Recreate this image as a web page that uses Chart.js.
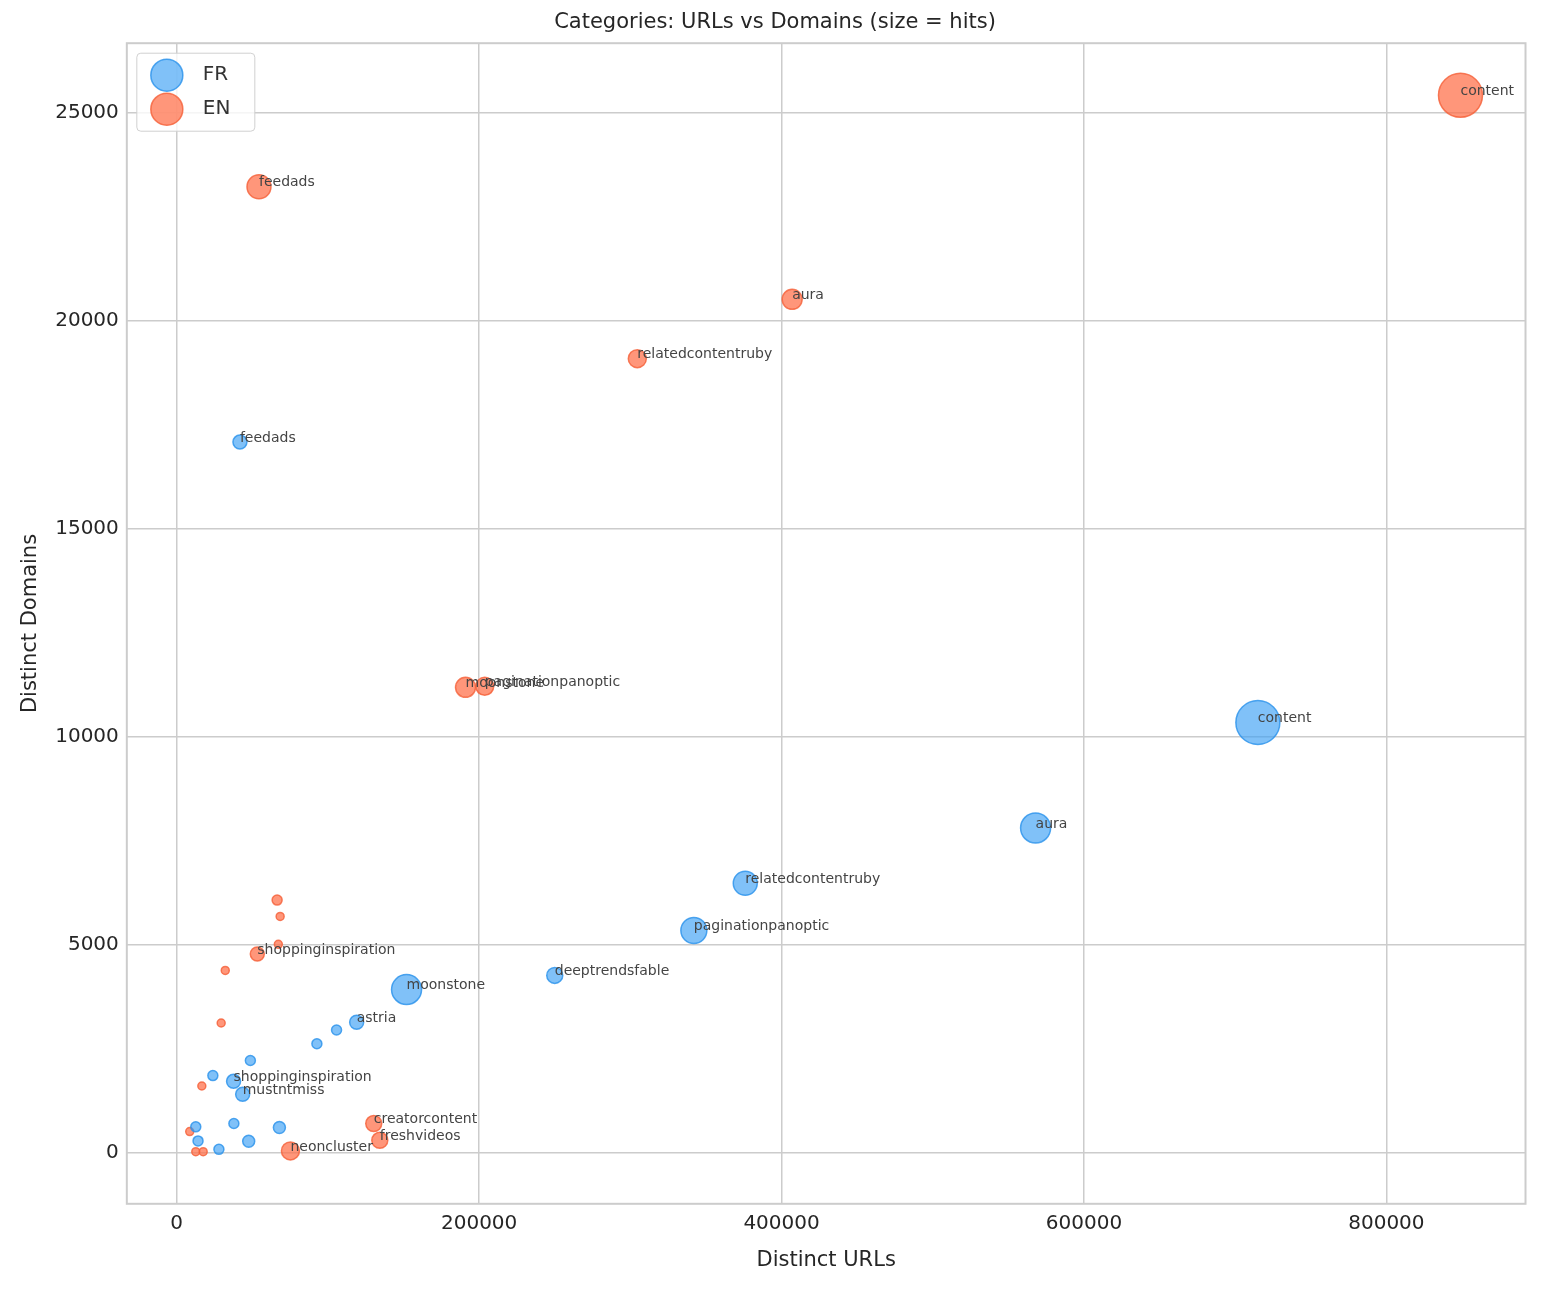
<!DOCTYPE html>
<html>
<head>
<meta charset="utf-8">
<script src="https://cdn.jsdelivr.net/npm/chart.js@4/dist/chart.umd.min.js"></script>
<style>
  html, body { margin: 0; padding: 0; background: #fff; }
  #wrap { width: 1549px; height: 1291px; }
</style>
</head>
<body>
<div id="wrap"><canvas id="c" width="1549" height="1291"></canvas></div>
<script>
// FR series
const frLabels = ['content', 'aura', 'relatedcontentruby', 'paginationpanoptic', 'deeptrendsfable', 'moonstone', 'astria', '', '', '', '', 'shoppinginspiration', 'mustntmiss', '', '', '', '', '', '', 'feedads'];
const frUrls = [715000, 568000, 376000, 342000, 250000, 152000, 119000, 105700, 92700, 48700, 23900, 37600, 43600, 12600, 37800, 67900, 14100, 47600, 27900, 41800];
const frDomains = [10345, 7807, 6478, 5342, 4262, 3923, 3135, 2949, 2618, 2216, 1853, 1716, 1402, 621, 701, 604, 283, 273, 80, 17088];
const frHits = [484, 225, 144, 169, 64, 225, 49, 25, 25, 25, 25, 49, 49, 25, 25, 36, 25, 36, 25, 49];

// EN series
const enLabels = ['content', 'feedads', 'aura', 'relatedcontentruby', 'moonstone', 'paginationpanoptic', '', '', '', 'shoppinginspiration', '', '', '', 'creatorcontent', 'freshvideos', 'neoncluster', '', '', ''];
const enUrls = [849000, 54400, 407000, 304600, 191000, 203700, 66400, 68400, 67200, 53300, 32100, 29400, 16600, 130300, 134300, 75200, 8600, 12600, 17500];
const enDomains = [25427, 23227, 20520, 19094, 11191, 11215, 6074, 5680, 5011, 4778, 4382, 3118, 1603, 701, 298, 41, 508, 24, 24];
const enHits = [484, 144, 100, 81, 100, 81, 25, 16, 16, 49, 16, 16, 16, 64, 64, 81, 16, 16, 16];

const xTicks = [0, 200000, 400000, 600000, 800000];
const yTicks = [0, 5000, 10000, 15000, 20000, 25000];

const FR = { fill: 'rgba(60,160,245,0.65)', edge: 'rgba(40,145,235,0.8)' };
const EN = { fill: 'rgba(255,110,70,0.72)', edge: 'rgba(245,95,55,0.8)' };

const toPoints = (xs, ys) => xs.map((x, i) => ({ x, y: ys[i] }));
const radii = hits => hits.map(h => Math.sqrt(h));

const labelPlugin = {
  id: 'pointLabels',
  afterDatasetsDraw(chart) {
    const ctx = chart.ctx;
    const xs = chart.scales.x, ys = chart.scales.y;
    ctx.save();
    ctx.font = '14px "DejaVu Sans"';
    ctx.fillStyle = '#444';
    ctx.textBaseline = 'middle';
    [[frLabels, frUrls, frDomains], [enLabels, enUrls, enDomains]].forEach(([labs, ux, dy]) => {
      labs.forEach((t, i) => {
        if (!t) return;
        ctx.fillText(t, xs.getPixelForValue(ux[i]), ys.getPixelForValue(dy[i]) - 4);
      });
    });
    ctx.restore();
  },
  afterDraw(chart) {
    const ctx = chart.ctx;
    const a = chart.chartArea;
    ctx.save();
    ctx.strokeStyle = '#cccccc';
    ctx.lineWidth = 2;
    ctx.strokeRect(a.left, a.top, a.right - a.left, a.bottom - a.top);
    // legend box
    const lx = a.left + 10, ly = a.top + 10;
    ctx.fillStyle = 'rgba(255,255,255,0.8)';
    ctx.strokeStyle = '#d0d0d0';
    ctx.lineWidth = 1;
    ctx.beginPath();
    ctx.roundRect(lx, ly, 118, 78, 4);
    ctx.fill();
    ctx.stroke();
    ctx.font = '20px "DejaVu Sans"';
    ctx.textBaseline = 'middle';
    [[FR, 'FR', ly + 22], [EN, 'EN', ly + 56]].forEach(([c, t, yy]) => {
      ctx.beginPath();
      ctx.arc(lx + 30, yy, 16, 0, Math.PI * 2);
      ctx.fillStyle = c.fill;
      ctx.fill();
      ctx.strokeStyle = c.edge;
      ctx.lineWidth = 1.5;
      ctx.stroke();
      ctx.fillStyle = '#333';
      ctx.fillText(t, lx + 66, yy);
    });
    ctx.restore();
  },
};

new Chart(document.getElementById('c'), {
  type: 'bubble',
  data: {
    datasets: [
      {
        label: 'FR',
        data: toPoints(frUrls, frDomains),
        radius: radii(frHits),
        backgroundColor: FR.fill,
        borderColor: FR.edge,
        borderWidth: 1.5,
      },
      {
        label: 'EN',
        data: toPoints(enUrls, enDomains),
        radius: radii(enHits),
        backgroundColor: EN.fill,
        borderColor: EN.edge,
        borderWidth: 1.5,
      },
    ],
  },
  options: {
    responsive: false,
    animation: false,
    layout: { padding: { top: 4, right: 13, bottom: 14, left: 14 } },
    plugins: {
      legend: { display: false },
      tooltip: { enabled: false },
      title: {
        display: true,
        text: 'Categories: URLs vs Domains (size = hits)',
        color: '#262626',
        font: { family: 'DejaVu Sans', size: 21, weight: 'normal' },
        padding: { top: 6, bottom: 8 },
      },
    },
    scales: {
      x: {
        type: 'linear',
        min: -33000,
        max: 892000,
        afterBuildTicks: s => { s.ticks = xTicks.map(v => ({ value: v })); },
        ticks: { color: '#262626', font: { family: 'DejaVu Sans', size: 20 }, padding: 8, callback: v => String(v) },
        grid: { color: '#cccccc', lineWidth: 1.5, drawTicks: false },
        border: { display: false },
        title: { display: true, text: 'Distinct URLs', color: '#262626', font: { family: 'DejaVu Sans', size: 21 } },
      },
      y: {
        type: 'linear',
        min: -1230,
        max: 26680,
        afterBuildTicks: s => { s.ticks = yTicks.map(v => ({ value: v })); },
        ticks: { color: '#262626', font: { family: 'DejaVu Sans', size: 20 }, padding: 8, callback: v => String(v) },
        grid: { color: '#cccccc', lineWidth: 1.5, drawTicks: false },
        border: { display: false },
        title: { display: true, text: 'Distinct Domains', color: '#262626', font: { family: 'DejaVu Sans', size: 21 } },
      },
    },
  },
  plugins: [labelPlugin],
});
</script>
</body>
</html>
